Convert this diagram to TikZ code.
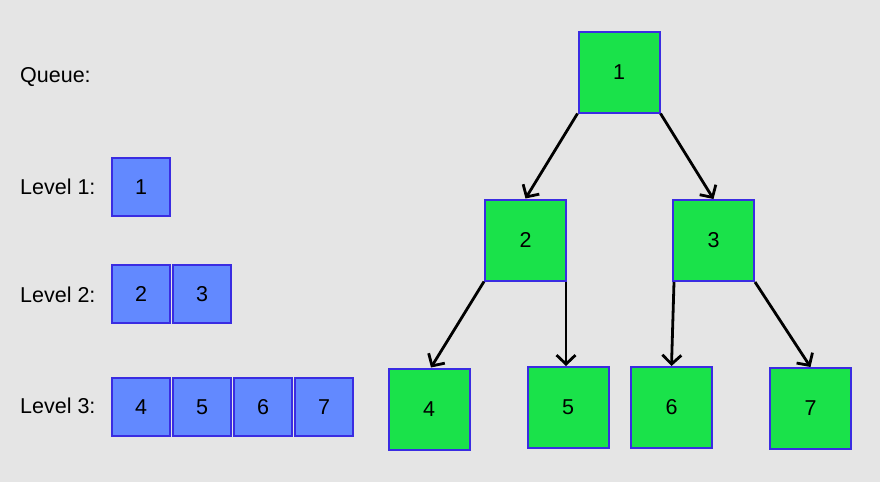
\documentclass[tikz,border=0pt]{standalone}
\usepackage{fontspec}
\setmainfont{Liberation Sans}
\usetikzlibrary{arrows.meta}
\definecolor{bg}{RGB}{229,229,229}
\definecolor{grn}{RGB}{26,226,74}
\definecolor{blu}{RGB}{98,137,255}
\definecolor{edge}{RGB}{58,44,226}
\begin{document}
\begin{tikzpicture}[x=1pt,y=-1pt,
  txt/.style={font=\fontsize{21.5}{25}\selectfont},
  tnode/.style={draw=edge, fill=grn, line width=2pt, minimum size=81pt, inner sep=0pt, txt},
  qcell/.style={draw=edge, fill=blu, line width=2pt, minimum size=58pt, inner sep=0pt, txt},
  lbl/.style={anchor=west, inner sep=0pt, txt},
  arr/.style={line width=2.8pt, -{Straight Barb[length=9pt,width=19pt,line width=2.8pt]}}
]
\useasboundingbox[fill=bg] (0,0) rectangle (880,482);

% labels
\node[lbl] (lq) at (20,77) {Queue:};
\node[lbl] (l1) at (20,187) {Level 1:};
\node[lbl] (l2) at (20,295) {Level 2:};
\node[lbl] (l3) at (20,406) {Level 3:};

% queue cells
\node[qcell] (q11) at (141,187) {1};
\node[qcell] (q21) at (141,294) {2};
\node[qcell] (q22) at (202,294) {3};
\node[qcell] (q31) at (141,407) {4};
\node[qcell] (q32) at (202,407) {5};
\node[qcell] (q33) at (263,407) {6};
\node[qcell] (q34) at (324,407) {7};

% tree nodes
\node[tnode] (n1) at (619,72) {1};
\node[tnode] (n2) at (525.5,240) {2};
\node[tnode] (n3) at (713.5,240.5) {3};
\node[tnode] (n4) at (429,409) {4};
\node[tnode] (n5) at (568,407.5) {5};
\node[tnode] (n6) at (671.5,407.5) {6};
\node[tnode] (n7) at (810.5,408.5) {7};

% connectors
\draw[arr] (n1.south west) -- (n2.north);
\draw[arr] (n1.south east) -- (n3.north);
\draw[arr] (n2.south west) -- ([xshift=2pt]n4.north);
\draw[arr] ([xshift=-1pt]n2.south east) -- ([xshift=-2pt]n5.north);
\draw[arr] ([xshift=2pt]n3.south west) -- (n6.north);
\draw[arr] (n3.south east) -- (n7.north);
\end{tikzpicture}
\end{document}
